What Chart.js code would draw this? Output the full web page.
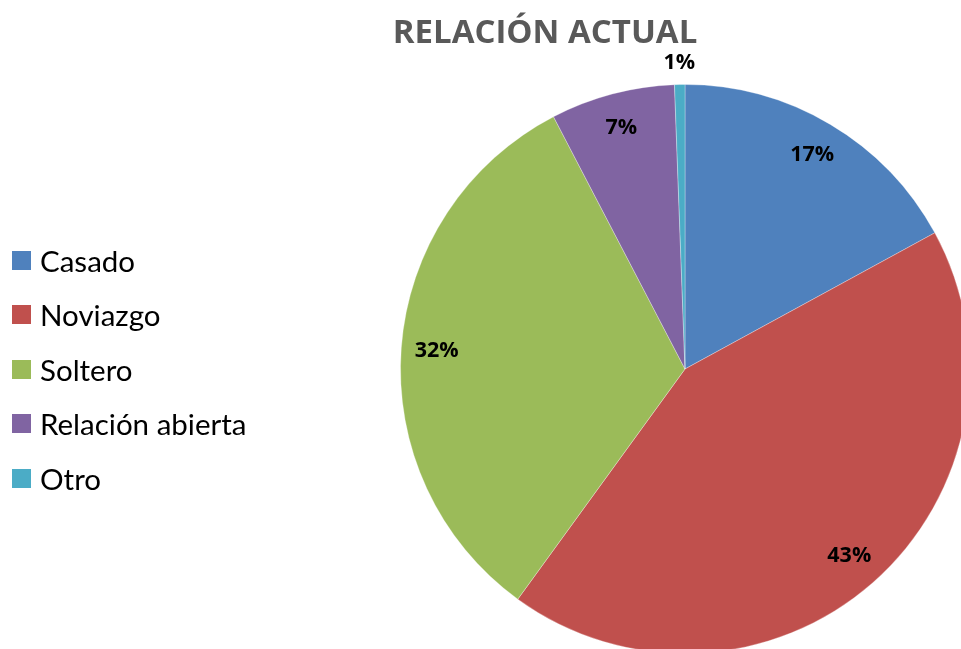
<!DOCTYPE html>
<html lang="es">
<head>
<meta charset="UTF-8">
<title>Relación actual</title>
<script src="https://cdn.jsdelivr.net/npm/chart.js"></script>
<style>
    body { margin: 0; background: #fff; }
    .marco { position: relative; width: 961px; height: 649px; overflow: hidden; }
    .marco canvas { position: absolute; left: 0; top: 0; }
    .titulo {
        position: absolute; left: 345px; top: 8px; width: 400px;
        font-family: 'Open Sans', sans-serif; font-weight: bold; font-size: 33px;
        color: #595959; white-space: nowrap; text-align: center;
    }
    .leyenda { position: absolute; left: 12px; top: 233px; font-family: Lato, sans-serif; font-size: 29.5px; color: #000; }
    .leyenda div { height: 54.5px; display: flex; align-items: center; }
    .leyenda span.cuadro { width: 19px; height: 19px; margin-right: 9px; display: inline-block; }
</style>
</head>
<body>
<div class="marco">
    <canvas id="grafico" width="980" height="720"></canvas>
    <div class="titulo">RELACIÓN ACTUAL</div>
    <div class="leyenda" id="leyenda"></div>
</div>

<script>
    const categorias = ['Casado', 'Noviazgo', 'Soltero', 'Relación abierta', 'Otro'];
    const valores = [29, 73, 55, 12, 1];
    const colores = ['#4F81BD', '#C0504D', '#9BBB59', '#8064A2', '#4BACC6'];

    // leyenda en html
    const leyenda = document.getElementById('leyenda');
    categorias.forEach((c, i) => {
        const fila = document.createElement('div');
        fila.innerHTML = '<span class="cuadro" style="background:' + colores[i] + '"></span>' + c;
        leyenda.appendChild(fila);
    });

    const etiquetas = {
        id: 'etiquetas',
        afterDatasetsDraw(chart) {
            const ctx = chart.ctx;
            const meta = chart.getDatasetMeta(0);
            const total = valores.reduce((a, b) => a + b, 0);
            ctx.save();
            ctx.font = 'bold 21.5px "Open Sans", sans-serif';
            ctx.fillStyle = '#000';
            ctx.textAlign = 'center';
            ctx.textBaseline = 'middle';
            meta.data.forEach((arc, i) => {
                const p = valores[i] / total;
                const ang = (arc.startAngle + arc.endAngle) / 2;
                const r = p < 0.02 ? arc.outerRadius + 22 : arc.outerRadius * 0.875;
                const x = arc.x + Math.cos(ang) * r;
                const y = arc.y + Math.sin(ang) * r;
                ctx.fillText(Math.round(p * 100) + '%', x, y);
            });
            ctx.restore();
        }
    };

    new Chart(document.getElementById('grafico'), {
        type: 'pie',
        data: {
            labels: categorias,
            datasets: [{
                data: valores,
                backgroundColor: colores,
                borderColor: 'rgba(255,255,255,0.3)',
                borderWidth: 1
            }]
        },
        options: {
            responsive: false,
            animation: false,
            layout: { padding: { left: 400, top: 84, right: 10, bottom: 66 } },
            plugins: {
                legend: { display: false },
                tooltip: { enabled: false }
            }
        },
        plugins: [etiquetas]
    });
</script>
</body>
</html>
